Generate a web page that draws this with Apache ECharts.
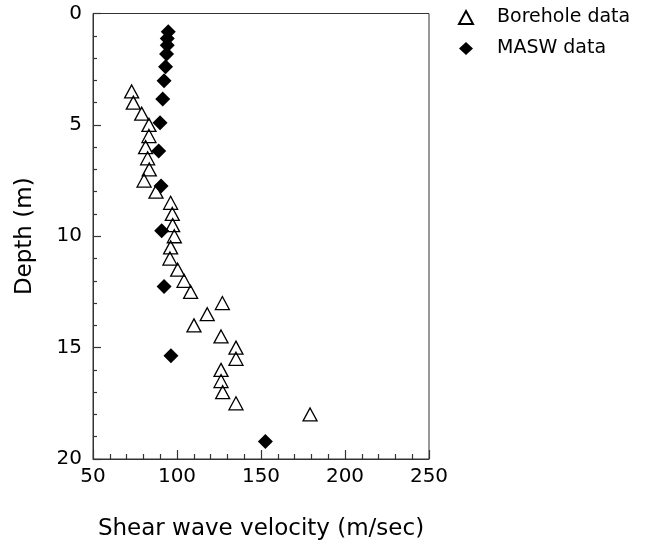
<!DOCTYPE html>
<html>
<head>
<meta charset="utf-8">
<script src="https://cdn.jsdelivr.net/npm/echarts@6/dist/echarts.min.js"></script>
<style>
html,body{margin:0;padding:0;background:#fff;}
#chart{width:660px;height:548px;}
</style>
</head>
<body>
<div id="chart"></div>
<script>
// Borehole data: depth (m) and shear wave velocity (m/sec)
var boreholeDepth = [3.5, 4.0, 4.5, 5.0, 5.5, 6.0, 6.5, 7.0, 7.5, 8.0, 8.5, 9.0, 9.5, 10.0, 10.5,
                     11.0, 11.5, 12.0, 12.5, 13.0, 13.5, 14.0, 14.5, 15.0, 15.5, 16.0, 16.5, 17.0, 17.5, 18.0];
var boreholeVs = [73, 74, 79, 83.3, 83.3, 81.3, 82.5, 83.5, 80.4, 87.5, 96.2, 97.2, 97.4, 98.4, 96.2,
                  95.8, 100.4, 104.2, 108.1, 127, 118, 110.1, 126.2, 135.1, 135.1, 126.2, 126.2, 127.2, 135.1, 179.2];
// MASW data
var maswDepth = [0.82, 1.12, 1.42, 1.82, 2.39, 3.02, 3.84, 4.9, 6.17, 7.74, 9.75, 12.26, 15.37, 19.21];
var maswVs = [94.8, 94.2, 94.2, 93.8, 93.2, 92.3, 91.5, 89.9, 89.1, 90.5, 90.9, 92.3, 96.4, 152.6];

var xTicks = [50, 100, 150, 200, 250];
var yTicks = [0, 5, 10, 15, 20];
var seriesNames = ['Borehole data', 'MASW data'];
var xTitle = 'Shear wave velocity (m/sec)';
var yTitle = 'Depth (m)';

var FONT = 'DejaVu Sans';
var AX = '#333';

function pairs(xs, ys) {
  return xs.map(function (v, i) { return [v, ys[i]]; });
}

var chart = echarts.init(document.getElementById('chart'), null, {renderer: 'canvas'});
chart.setOption({
  animation: false,
  backgroundColor: '#fff',
  grid: {
    left: 93, top: 13.5, width: 336, height: 445.5,
    show: true, borderColor: AX, borderWidth: 1, backgroundColor: 'transparent'
  },
  legend: {
    orient: 'vertical',
    left: 453, top: 3,
    itemWidth: 14, itemHeight: 13,
    itemGap: 12,
    data: seriesNames,
    textStyle: {fontFamily: FONT, fontSize: 19, color: '#000', padding: [0, 0, 0, 19]}
  },
  xAxis: {
    type: 'value',
    min: xTicks[0], max: xTicks[xTicks.length - 1], interval: 50,
    name: xTitle, nameLocation: 'middle', nameGap: 59,
    nameTextStyle: {fontFamily: FONT, fontSize: 23, color: '#000'},
    axisLine: {show: true, onZero: false, lineStyle: {color: AX, width: 1}},
    axisTick: {show: true, inside: true, length: 9, lineStyle: {color: AX, width: 1.2}},
    minorTick: {show: true, splitNumber: 5, length: 5, lineStyle: {color: AX, width: 1.2}},
    axisLabel: {fontFamily: FONT, fontSize: 20, color: '#000', margin: 8},
    splitLine: {show: false}, minorSplitLine: {show: false}
  },
  yAxis: {
    type: 'value', inverse: true,
    min: yTicks[0], max: yTicks[yTicks.length - 1], interval: 5,
    name: yTitle, nameLocation: 'middle', nameGap: 56,
    nameTextStyle: {fontFamily: FONT, fontSize: 23, color: '#000'},
    axisLine: {show: true, onZero: false, lineStyle: {color: AX, width: 1}},
    axisTick: {show: true, inside: true, length: 8, lineStyle: {color: AX, width: 1.2}},
    minorTick: {show: true, splitNumber: 5, length: 4, lineStyle: {color: AX, width: 1.2}},
    axisLabel: {fontFamily: FONT, fontSize: 20, color: '#000', margin: 11},
    splitLine: {show: false}, minorSplitLine: {show: false}
  },
  series: [
    {
      name: seriesNames[0], type: 'scatter', z: 3,
      symbol: 'triangle', symbolSize: [14, 13],
      itemStyle: {color: 'rgba(255,255,255,0)', borderColor: '#000', borderWidth: 1.3, opacity: 1},
      data: pairs(boreholeVs, boreholeDepth)
    },
    {
      name: seriesNames[1], type: 'scatter', z: 2,
      symbol: 'diamond', symbolSize: [15, 15],
      itemStyle: {color: '#000', borderWidth: 0, opacity: 1},
      data: pairs(maswVs, maswDepth)
    }
  ]
});
</script>
</body>
</html>
